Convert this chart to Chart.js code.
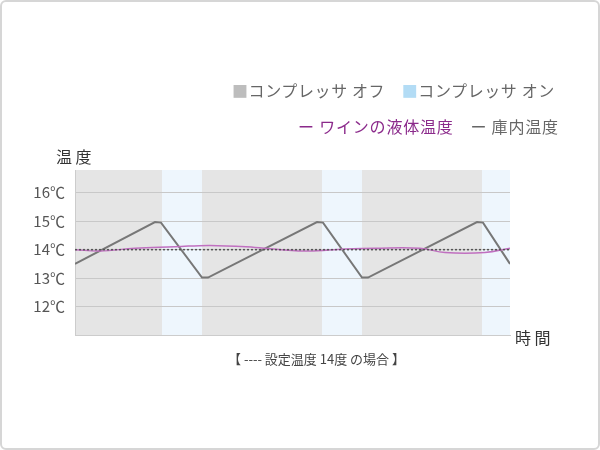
<!DOCTYPE html>
<html><head><meta charset="utf-8">
<script src="https://cdn.jsdelivr.net/npm/chart.js@4"></script>
<style>
body{margin:0;background:#fff;font-family:"Noto Sans CJK JP",sans-serif;}
#frame{position:absolute;left:0;top:0;width:596px;height:446px;border:2px solid #d6d6d6;border-radius:6px;}
.t{position:absolute;white-space:nowrap;color:#666;}
canvas{position:absolute;left:0;top:0;}
</style></head><body>
<div id="frame"></div>
<canvas id="c" width="600" height="450"></canvas>
<div class="t" style="left:232px;top:78px;font-size:16px;letter-spacing:0.6px;"><span style="color:#bdbdbd">■</span>コンプレッサ オフ　<span style="color:#b3dcf5">■</span>コンプレッサ オン</div>
<div class="t" style="left:298px;top:114px;font-size:16px;letter-spacing:0.8px;"><span style="color:#8b2a8b">ー ワインの液体温度</span>　ー 庫内温度</div>
<div class="t" style="left:56px;top:144px;font-size:16px;color:#333">温 度</div>
<div class="t" style="left:515px;top:325px;font-size:16px;color:#333">時 間</div>
<div class="t" style="left:228px;top:349px;font-size:13px;color:#444">【 ---- 設定温度 14度 の場合 】</div>
<script>
const yTicks = [12, 13, 14, 15, 16];
const offRanges = [[0, 87], [127, 247], [287, 407]];
const onRanges = [[87, 127], [247, 287], [407, 435]];
const roomTemp = [[0, 13.5], [80, 14.97], [86, 14.95], [127, 13.02], [133, 13.02], [242, 14.97], [248, 14.95], [287, 13.02], [293, 13.02], [402, 14.97], [408, 14.95], [435, 13.5]];
const wineTemp = [[0, 14.0], [25, 13.95], [60, 14.05], [100, 14.1], [135, 14.15], [180, 14.08], [230, 13.95], [270, 14.02], [300, 14.05], [345, 14.05], [370, 13.9], [410, 13.9], [435, 14.05]];
const setTemp = [[0, 14], [435, 14]];

const toPts = a => a.map(([x, y]) => ({x, y}));

const bands = {
  id: 'bands',
  beforeDraw(chart) {
    const {ctx, chartArea: a, scales: {x}} = chart;
    ctx.save();
    ctx.fillStyle = '#e5e5e5';
    offRanges.forEach(([s, e]) => ctx.fillRect(x.getPixelForValue(s), a.top, x.getPixelForValue(e) - x.getPixelForValue(s), a.bottom - a.top));
    ctx.fillStyle = '#eef6fd';
    onRanges.forEach(([s, e]) => ctx.fillRect(x.getPixelForValue(s), a.top, x.getPixelForValue(e) - x.getPixelForValue(s), a.bottom - a.top));
    ctx.restore();
  }
};

new Chart(document.getElementById('c'), {
  type: 'line',
  data: {
    datasets: [
      {data: toPts(setTemp), borderColor: '#555', borderWidth: 1.5, borderDash: [2, 2], pointRadius: 0},
      {data: toPts(wineTemp), borderColor: '#c070c0', borderWidth: 1.5, pointRadius: 0, tension: 0.4},
      {data: toPts(roomTemp), borderColor: '#777', borderWidth: 2, pointRadius: 0}
    ]
  },
  options: {
    responsive: false, animation: false,
    layout: {padding: {left: 0, right: 90, top: 170, bottom: 115}},
    plugins: {legend: {display: false}, tooltip: {enabled: false}},
    scales: {
      x: {type: 'linear', min: 0, max: 435, ticks: {display: false}, grid: {display: false}, border: {color: '#ccc'},
          afterFit: s => { s.height = 0; }},
      y: {min: 11, max: 16.8,
          afterBuildTicks: s => { s.ticks = yTicks.map(v => ({value: v})); },
          afterFit: s => { s.width = 75; },
          ticks: {callback: v => v + '℃', color: '#555', font: {size: 15, family: 'Noto Sans CJK JP'}, padding: 10},
          grid: {color: '#c8c8c8', drawTicks: false}, border: {color: '#ccc'}}
    }
  },
  plugins: [bands]
});
</script>
</body></html>
